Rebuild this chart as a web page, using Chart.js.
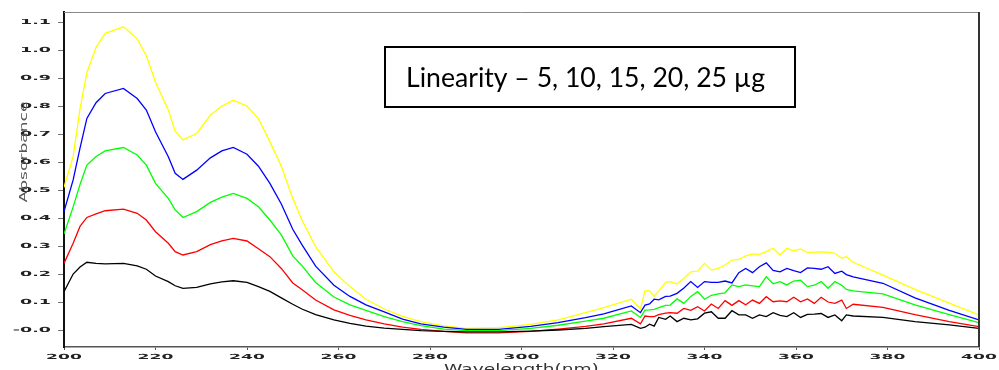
<!DOCTYPE html>
<html>
<head>
<meta charset="utf-8">
<script src="https://cdn.jsdelivr.net/npm/chart.js@4/dist/chart.umd.min.js"></script>
<style>
  html, body { margin: 0; padding: 0; background: #fff; }
  canvas { display: block; }
</style>
</head>
<body>
<canvas id="uvChart" width="999" height="370"></canvas>
<script>
// Spectra de linéarité (5 concentrations), absorbance vs longueur d'onde
const wavelength = [
    200, 202, 203.5, 205, 207, 209, 213, 216, 218, 220,
    222.8, 224.3, 226, 229, 232, 234.5, 237, 240, 242.5, 245,
    247.5, 250, 252, 255, 259, 262.5, 266, 270, 274, 278,
    283, 288, 295, 302, 308, 314, 318, 324, 326, 327,
    328, 329, 330, 331.5, 332.5, 334, 335.5, 337, 338.5, 340,
    341.5, 343, 344.5, 346, 347.5, 349, 350.5, 352, 353.5, 355,
    356.5, 358, 359.5, 361, 362.5, 364, 365.5, 367, 368.5, 370,
    371, 372.5, 379, 386, 393.5, 400
];

const abs25 = [
    0.51, 0.62, 0.79, 0.92, 1.01, 1.06, 1.083, 1.04, 0.98, 0.885,
    0.786, 0.71, 0.679, 0.702, 0.768, 0.80, 0.821, 0.80, 0.755, 0.673,
    0.585, 0.47, 0.393, 0.298, 0.208, 0.155, 0.11, 0.075, 0.049, 0.03,
    0.015, 0.006, 0.008, 0.02, 0.036, 0.062, 0.08, 0.11, 0.075, 0.14,
    0.14, 0.121, 0.14, 0.17, 0.173, 0.164, 0.185, 0.208, 0.21, 0.238,
    0.214, 0.22, 0.232, 0.25, 0.252, 0.265, 0.272, 0.27, 0.28, 0.292,
    0.268, 0.292, 0.283, 0.29, 0.277, 0.278, 0.279, 0.278, 0.274, 0.256,
    0.262, 0.242, 0.196, 0.145, 0.096, 0.054
];

const abs20 = [
    0.423, 0.536, 0.65, 0.756, 0.812, 0.845, 0.863, 0.827, 0.786, 0.708,
    0.619, 0.56, 0.538, 0.571, 0.615, 0.64, 0.652, 0.628, 0.585, 0.524,
    0.45, 0.36, 0.305, 0.228, 0.16, 0.12, 0.09, 0.065, 0.039, 0.022,
    0.01, 0.002, 0.002, 0.013, 0.026, 0.044, 0.058, 0.086, 0.062, 0.089,
    0.093, 0.11, 0.108, 0.12, 0.121, 0.131, 0.15, 0.173, 0.152, 0.173,
    0.17, 0.17, 0.175, 0.168, 0.205, 0.22, 0.205, 0.226, 0.24, 0.213,
    0.208, 0.22, 0.212, 0.205, 0.222, 0.22, 0.217, 0.226, 0.202, 0.21,
    0.198, 0.19, 0.167, 0.115, 0.07, 0.036
];

const abs15 = [
    0.343, 0.44, 0.52, 0.589, 0.62, 0.64, 0.652, 0.625, 0.589, 0.524,
    0.47, 0.429, 0.402, 0.423, 0.456, 0.475, 0.488, 0.47, 0.44, 0.393,
    0.34, 0.265, 0.23, 0.17, 0.118, 0.09, 0.07, 0.048, 0.03, 0.016,
    0.003, -0.002, -0.002, 0.006, 0.017, 0.032, 0.042, 0.068, 0.045, 0.071,
    0.072, 0.074, 0.08, 0.088, 0.089, 0.111, 0.095, 0.12, 0.137, 0.11,
    0.124, 0.129, 0.133, 0.161, 0.155, 0.161, 0.158, 0.155, 0.19, 0.165,
    0.173, 0.161, 0.175, 0.178, 0.155, 0.16, 0.173, 0.149, 0.173, 0.16,
    0.145, 0.14, 0.129, 0.09, 0.055, 0.026
];

const abs10 = [
    0.238, 0.31, 0.37, 0.402, 0.415, 0.426, 0.432, 0.417, 0.393, 0.351,
    0.31, 0.28, 0.268, 0.28, 0.305, 0.318, 0.327, 0.318, 0.29, 0.262,
    0.22, 0.168, 0.145, 0.107, 0.072, 0.052, 0.036, 0.022, 0.01, 0.002,
    -0.005, -0.01, -0.01, -0.005, 0.003, 0.013, 0.022, 0.042, 0.022, 0.05,
    0.048, 0.048, 0.055, 0.06, 0.062, 0.06, 0.077, 0.07, 0.083, 0.068,
    0.093, 0.077, 0.105, 0.088, 0.105, 0.09, 0.107, 0.095, 0.119, 0.101,
    0.104, 0.101, 0.117, 0.101, 0.111, 0.095, 0.117, 0.1, 0.095, 0.107,
    0.077, 0.092, 0.081, 0.055, 0.03, 0.012
];

const abs5 = [
    0.137, 0.2, 0.225, 0.242, 0.238, 0.236, 0.238, 0.229, 0.217, 0.193,
    0.173, 0.158, 0.149, 0.152, 0.165, 0.172, 0.176, 0.17, 0.155, 0.138,
    0.115, 0.092, 0.075, 0.055, 0.036, 0.024, 0.014, 0.007, 0.002, -0.002,
    -0.005, -0.007, -0.007, -0.004, 0.0, 0.006, 0.012, 0.02, 0.006, 0.01,
    0.021, 0.014, 0.045, 0.038, 0.05, 0.03, 0.042, 0.036, 0.04, 0.06,
    0.065, 0.042, 0.042, 0.069, 0.054, 0.054, 0.042, 0.054, 0.048, 0.062,
    0.052, 0.048, 0.062, 0.045, 0.056, 0.057, 0.059, 0.045, 0.054, 0.033,
    0.054, 0.05, 0.045, 0.03, 0.018, 0.006
];

const seriesNames = ['5 µg', '10 µg', '15 µg', '20 µg', '25 µg'];
const seriesColors = ['#000000', '#ff0000', '#00ff00', '#0000ff', '#ffff00'];
const xTicks = [200, 220, 240, 260, 280, 300, 320, 340, 360, 380, 400];
const yTicks = [0, 0.1, 0.2, 0.3, 0.4, 0.5, 0.6, 0.7, 0.8, 0.9, 1.0, 1.1];
const boxText = 'Linearity – 5, 10, 15, 20, 25 µg';

function toPoints(values) {
    return wavelength.map((x, i) => ({ x: x, y: values[i] }));
}

// texte étiré horizontalement (comme l'export du spectro)
function stretchText(ctx, text, x, y, sx, align) {
    ctx.save();
    ctx.translate(x, y);
    ctx.scale(sx, 1);
    ctx.textAlign = align;
    ctx.fillText(text, 0, 0);
    ctx.restore();
}

const decorPlugin = {
    id: 'decor',
    afterDraw(chart) {
        const ctx = chart.ctx;
        const area = chart.chartArea;
        const xs = chart.scales.x;
        const ys = chart.scales.y;

        ctx.save();
        // cadre haut / droite
        ctx.strokeStyle = '#8a8a8a';
        ctx.lineWidth = 1;
        ctx.beginPath();
        ctx.moveTo(area.left, area.top + 0.5);
        ctx.lineTo(area.right, area.top + 0.5);
        ctx.stroke();
        ctx.strokeStyle = '#333';
        ctx.lineWidth = 2;
        ctx.beginPath();
        ctx.moveTo(area.right, area.top);
        ctx.lineTo(area.right, area.bottom);
        ctx.stroke();

        // étiquettes des graduations
        ctx.fillStyle = '#222';
        ctx.font = 'bold 7px "DejaVu Sans"';
        ctx.textBaseline = 'middle';
        xTicks.forEach(v => {
            stretchText(ctx, String(v), xs.getPixelForValue(v), area.bottom + 10, 2.45, 'center');
        });
        yTicks.forEach(v => {
            const label = v === 0 ? '-0.0' : v.toFixed(1);
            stretchText(ctx, label, 51, ys.getPixelForValue(v), 2.5, 'right');
        });

        // titres des axes
        ctx.fillStyle = '#333';
        ctx.font = '12px "DejaVu Sans"';
        ctx.textBaseline = 'alphabetic';
        stretchText(ctx, 'Wavelength(nm)', (area.left + area.right) / 2, 373, 1.55, 'center');

        ctx.save();
        ctx.translate(24, 152);
        ctx.rotate(-Math.PI / 2);
        ctx.fillStyle = '#555';
        ctx.font = '11px "DejaVu Sans"';
        ctx.textBaseline = 'middle';
        stretchText(ctx, 'Absorbance', 0, 0, 1.55, 'center');
        ctx.restore();

        // encadré
        ctx.fillStyle = '#fff';
        ctx.fillRect(385, 47, 410, 60);
        ctx.strokeStyle = '#000';
        ctx.lineWidth = 2;
        ctx.strokeRect(385, 47, 410, 60);
        ctx.fillStyle = '#000';
        ctx.font = '26px Lato';
        ctx.textBaseline = 'alphabetic';
        const w = ctx.measureText(boxText).width;
        stretchText(ctx, boxText, 406, 87, 359 / w, 'left');
        ctx.restore();
    }
};

new Chart(document.getElementById('uvChart'), {
    type: 'line',
    data: {
        datasets: [abs5, abs10, abs15, abs20, abs25].map((values, i) => ({
            label: seriesNames[i],
            data: toPoints(values),
            borderColor: seriesColors[i],
            borderWidth: 1.3,
            pointRadius: 0,
            tension: 0,
            fill: false
        }))
    },
    options: {
        responsive: false,
        animation: false,
        devicePixelRatio: 1,
        layout: { padding: { top: 12, right: 20, left: 0, bottom: 0 } },
        plugins: {
            legend: { display: false },
            tooltip: { enabled: false }
        },
        scales: {
            x: {
                type: 'linear',
                min: 200,
                max: 400,
                afterBuildTicks: scale => { scale.ticks = xTicks.map(v => ({ value: v })); },
                afterFit: scale => { scale.height = 23; },
                ticks: { display: false },
                grid: { drawOnChartArea: false, drawTicks: true, tickLength: 3, color: '#555' },
                border: { color: '#555', width: 1.5 }
            },
            y: {
                min: -0.0607,
                max: 1.136,
                afterBuildTicks: scale => { scale.ticks = yTicks.map(v => ({ value: v })); },
                afterFit: scale => { scale.width = 64; },
                ticks: { display: false },
                grid: { drawOnChartArea: false, drawTicks: true, tickLength: 6, color: '#777' },
                border: { color: '#111', width: 2 }
            }
        }
    },
    plugins: [decorPlugin]
});
</script>
</body>
</html>
